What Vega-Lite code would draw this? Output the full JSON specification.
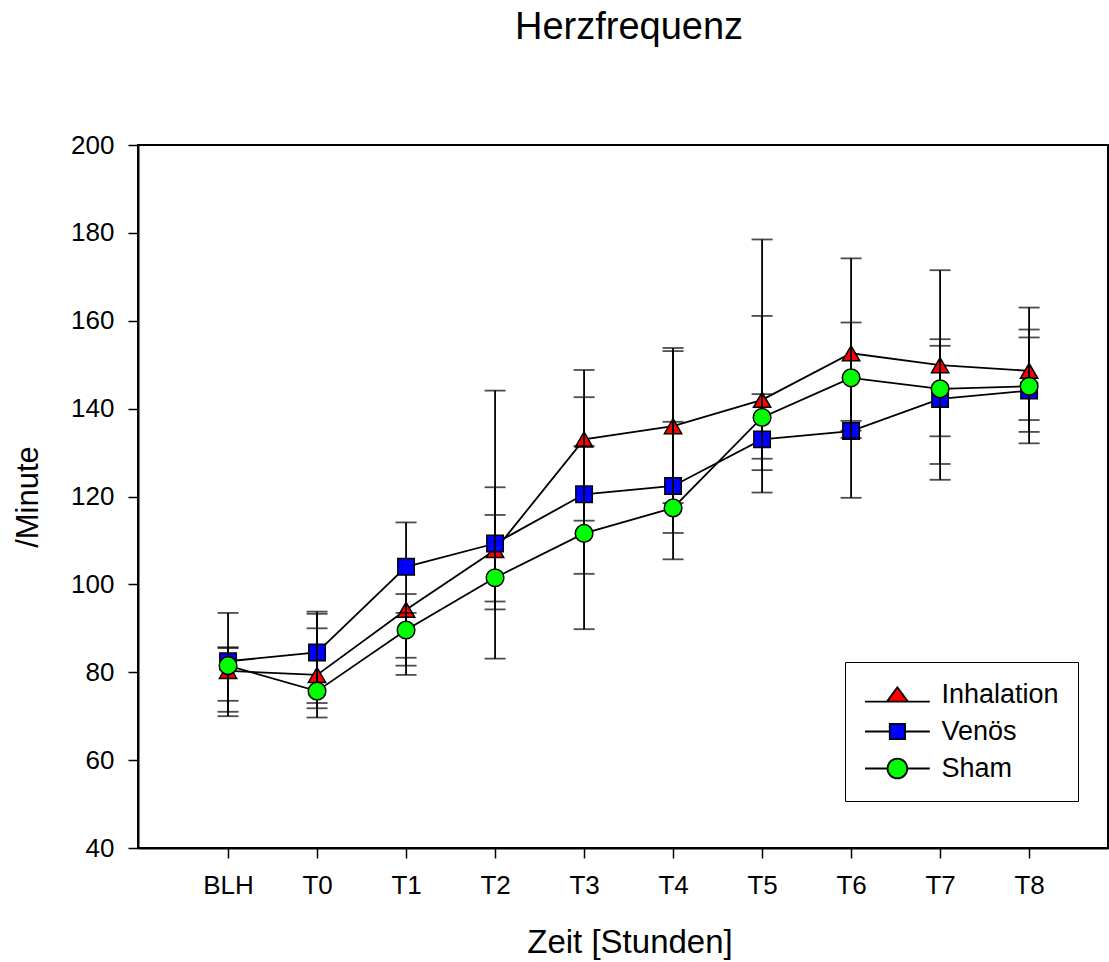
{
  "$schema": "https://vega.github.io/schema/vega-lite/v6.json",
  "width": 970,
  "height": 703,
  "autosize": {"type": "none"},
  "padding": {"left": 138, "top": 145, "right": 1, "bottom": 114},
  "background": "white",
  "config": {
    "font": "Liberation Sans",
    "view": {"stroke": "black", "strokeWidth": 2},
    "axis": {
      "grid": false,
      "domainColor": "black",
      "domainWidth": 2,
      "tickColor": "black",
      "tickWidth": 1.5,
      "tickSize": 10,
      "labelColor": "black",
      "labelFontSize": 26,
      "titleColor": "black",
      "titleFontSize": 33,
      "titleFontWeight": "normal"
    }
  },
  "title": {
    "text": "Herzfrequenz",
    "fontSize": 38,
    "fontWeight": "normal",
    "color": "black",
    "anchor": "middle",
    "frame": "group",
    "offset": 85,
    "dx": 6
  },
  "data": {
    "values": [
      {"t": "BLH", "g": "Inhalation", "m": 80.3, "lo": 73.5, "hi": 93.5},
      {"t": "BLH", "g": "Venös", "m": 82.5, "lo": 71.0, "hi": 85.7},
      {"t": "BLH", "g": "Sham", "m": 81.5, "lo": 70.0, "hi": 85.5},
      {"t": "T0", "g": "Inhalation", "m": 79.4, "lo": 71.8, "hi": 90.0},
      {"t": "T0", "g": "Venös", "m": 84.5, "lo": 73.0, "hi": 93.8},
      {"t": "T0", "g": "Sham", "m": 75.7, "lo": 69.7, "hi": 93.3},
      {"t": "T1", "g": "Inhalation", "m": 94.2, "lo": 81.5, "hi": 97.8},
      {"t": "T1", "g": "Venös", "m": 104.0, "lo": 83.3, "hi": 114.1},
      {"t": "T1", "g": "Sham", "m": 89.6, "lo": 79.4, "hi": 93.5},
      {"t": "T2", "g": "Inhalation", "m": 107.8, "lo": 83.1, "hi": 144.1},
      {"t": "T2", "g": "Venös", "m": 109.3, "lo": 96.1, "hi": 122.1},
      {"t": "T2", "g": "Sham", "m": 101.5, "lo": 94.3, "hi": 115.8},
      {"t": "T3", "g": "Inhalation", "m": 133.0, "lo": 114.5, "hi": 148.8},
      {"t": "T3", "g": "Venös", "m": 120.5, "lo": 102.4, "hi": 131.5},
      {"t": "T3", "g": "Sham", "m": 111.6, "lo": 89.8, "hi": 142.6},
      {"t": "T4", "g": "Inhalation", "m": 136.0, "lo": 118.5, "hi": 153.8},
      {"t": "T4", "g": "Venös", "m": 122.4, "lo": 111.7, "hi": 137.0},
      {"t": "T4", "g": "Sham", "m": 117.4, "lo": 105.7, "hi": 153.1},
      {"t": "T5", "g": "Inhalation", "m": 142.0, "lo": 126.0, "hi": 178.5},
      {"t": "T5", "g": "Venös", "m": 133.0, "lo": 120.9, "hi": 143.3},
      {"t": "T5", "g": "Sham", "m": 138.0, "lo": 128.6, "hi": 161.1},
      {"t": "T6", "g": "Inhalation", "m": 152.6, "lo": 135.0, "hi": 174.2},
      {"t": "T6", "g": "Venös", "m": 134.9, "lo": 119.7, "hi": 137.2},
      {"t": "T6", "g": "Sham", "m": 147.0, "lo": 133.3, "hi": 159.6},
      {"t": "T7", "g": "Inhalation", "m": 149.9, "lo": 127.4, "hi": 171.5},
      {"t": "T7", "g": "Venös", "m": 142.2, "lo": 123.8, "hi": 155.8},
      {"t": "T7", "g": "Sham", "m": 144.5, "lo": 133.7, "hi": 154.3},
      {"t": "T8", "g": "Inhalation", "m": 148.6, "lo": 134.7, "hi": 163.0},
      {"t": "T8", "g": "Venös", "m": 144.1, "lo": 132.1, "hi": 156.2},
      {"t": "T8", "g": "Sham", "m": 145.1, "lo": 137.4, "hi": 158.0}
    ]
  },
  "encoding": {
    "x": {
      "field": "t",
      "type": "nominal",
      "sort": null,
      "scale": {
        "type": "point",
        "domain": ["BLH", "T0", "T1", "T2", "T3", "T4", "T5", "T6", "T7", "T8"],
        "padding": 0.949,
        "align": 0.533
      },
      "axis": {"title": "Zeit [Stunden]", "labelAngle": 0, "labelPadding": 14, "titlePadding": 28, "titleX": 491.5}
    }
  },
  "layer": [
    {
      "mark": {"type": "line", "color": "black", "strokeWidth": 1.8},
      "encoding": {
        "y": {
          "field": "m",
          "type": "quantitative",
          "scale": {"domain": [40, 200], "nice": false, "zero": false},
          "axis": {"title": "/Minute", "titleFontSize": 31, "values": [40, 60, 80, 100, 120, 140, 160, 180, 200], "labelPadding": 14, "titlePadding": 26}
        },
        "detail": {"field": "g", "type": "nominal"}
      }
    },
    {
      "transform": [{"filter": "datum.g == 'Inhalation'"}],
      "layer": [
        {"mark": {"type": "rule", "color": "black", "strokeWidth": 1.8}, "encoding": {"y": {"field": "lo", "type": "quantitative"}, "y2": {"field": "hi"}}},
        {"mark": {"type": "tick", "orient": "horizontal", "size": 21, "thickness": 1.8, "color": "black"}, "encoding": {"y": {"field": "lo", "type": "quantitative"}}},
        {"mark": {"type": "tick", "orient": "horizontal", "size": 21, "thickness": 1.8, "color": "black"}, "encoding": {"y": {"field": "hi", "type": "quantitative"}}},
        {
          "mark": {"type": "point", "filled": true, "size": 300, "stroke": "black", "strokeWidth": 1.5, "opacity": 1},
          "encoding": {
            "y": {"field": "m", "type": "quantitative"},
            "fill": {"field": "g", "type": "nominal", "scale": {"domain": ["Inhalation", "Venös", "Sham"], "range": ["#ff0000", "#0000ff", "#00ff00"]}, "legend": null},
            "shape": {"field": "g", "type": "nominal", "scale": {"domain": ["Inhalation", "Venös", "Sham"], "range": ["triangle-up", "square", "circle"]}, "legend": null}
          }
        }
      ]
    },
    {
      "transform": [{"filter": "datum.g == 'Venös'"}],
      "layer": [
        {"mark": {"type": "rule", "color": "black", "strokeWidth": 1.8}, "encoding": {"y": {"field": "lo", "type": "quantitative"}, "y2": {"field": "hi"}}},
        {"mark": {"type": "tick", "orient": "horizontal", "size": 21, "thickness": 1.8, "color": "black"}, "encoding": {"y": {"field": "lo", "type": "quantitative"}}},
        {"mark": {"type": "tick", "orient": "horizontal", "size": 21, "thickness": 1.8, "color": "black"}, "encoding": {"y": {"field": "hi", "type": "quantitative"}}},
        {
          "mark": {"type": "point", "filled": true, "size": 270, "stroke": "black", "strokeWidth": 1.5, "opacity": 1},
          "encoding": {
            "y": {"field": "m", "type": "quantitative"},
            "fill": {"field": "g", "type": "nominal", "scale": {"domain": ["Inhalation", "Venös", "Sham"], "range": ["#ff0000", "#0000ff", "#00ff00"]}, "legend": null},
            "shape": {"field": "g", "type": "nominal", "scale": {"domain": ["Inhalation", "Venös", "Sham"], "range": ["triangle-up", "square", "circle"]}, "legend": null}
          }
        }
      ]
    },
    {
      "transform": [{"filter": "datum.g == 'Sham'"}],
      "layer": [
        {"mark": {"type": "rule", "color": "black", "strokeWidth": 1.8}, "encoding": {"y": {"field": "lo", "type": "quantitative"}, "y2": {"field": "hi"}}},
        {"mark": {"type": "tick", "orient": "horizontal", "size": 21, "thickness": 1.8, "color": "black"}, "encoding": {"y": {"field": "lo", "type": "quantitative"}}},
        {"mark": {"type": "tick", "orient": "horizontal", "size": 21, "thickness": 1.8, "color": "black"}, "encoding": {"y": {"field": "hi", "type": "quantitative"}}},
        {
          "mark": {"type": "point", "filled": true, "size": 310, "stroke": "black", "strokeWidth": 1.5, "opacity": 1},
          "encoding": {
            "y": {"field": "m", "type": "quantitative"},
            "fill": {"field": "g", "type": "nominal", "scale": {"domain": ["Inhalation", "Venös", "Sham"], "range": ["#ff0000", "#0000ff", "#00ff00"]}, "legend": null},
            "shape": {"field": "g", "type": "nominal", "scale": {"domain": ["Inhalation", "Venös", "Sham"], "range": ["triangle-up", "square", "circle"]}, "legend": null}
          }
        }
      ]
    },
    {
      "transform": [{"filter": "false"}],
      "mark": {"type": "point", "filled": true, "size": 324, "stroke": "black", "strokeWidth": 1.8, "opacity": 1},
      "encoding": {
        "y": {"field": "m", "type": "quantitative"},
        "fill": {
          "field": "g",
          "type": "nominal",
          "scale": {"domain": ["Inhalation", "Venös", "Sham"], "range": ["#ff0000", "#0000ff", "#00ff00"]},
          "legend": {
            "orient": "none",
            "legendX": 707,
            "legendY": 517,
            "title": null,
            "padding": 19,
            "rowPadding": 9,
            "strokeColor": "black",
            "fillColor": "white",
            "symbolSize": 324,
            "symbolOffset": 19.9,
            "symbolStrokeColor": "black",
            "symbolStrokeWidth": 1.8,
            "symbolOpacity": 1,
            "labelFontSize": 27,
            "labelColor": "black",
            "labelOffset": 30.5
          }
        },
        "shape": {
          "field": "g",
          "type": "nominal",
          "scale": {
            "domain": ["Inhalation", "Venös", "Sham"],
            "range": [
              "M-3.6,0.8H-1.17M1.17,0.8H3.6M0,-0.8L1.17,0.8L-1.17,0.8Z",
              "M-3.6,0H-0.85M0.85,0H3.6M-0.85,-0.85H0.85V0.85H-0.85Z",
              "M-3.6,0H-1.1M1.1,0H3.6M1.1,0A1.1,1.1,0,1,1,-1.1,0A1.1,1.1,0,1,1,1.1,0Z"
            ]
          }
        }
      }
    }
  ],
  "resolve": {"scale": {"shape": "independent", "fill": "independent"}}
}
